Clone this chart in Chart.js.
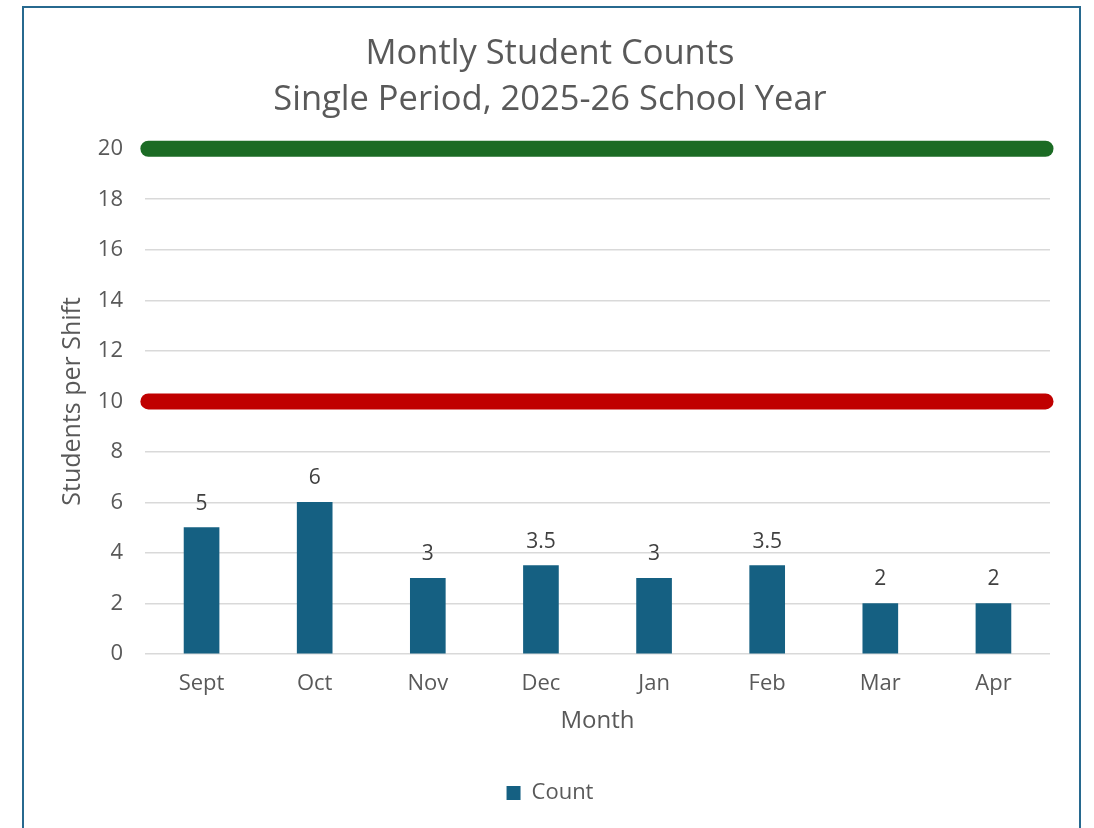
<!DOCTYPE html>
<html>
<head>
<meta charset="utf-8">
<script src="https://cdn.jsdelivr.net/npm/chart.js@4.4.1/dist/chart.umd.min.js"></script>
<style>
  body { margin: 0; background: #ffffff; }
  #frame {
    position: absolute; left: 22px; top: 6px; width: 1059px; height: 840px;
    border: 2px solid #27698f; box-sizing: border-box;
  }
  #chart0 { position: absolute; left: 0; top: 0; }
</style>
</head>
<body>
<div id="frame"></div>
<canvas id="chart0" width="1094" height="828"></canvas>
<script>
const months = ["Sept", "Oct", "Nov", "Dec", "Jan", "Feb", "Mar", "Apr"];
const counts = [5, 6, 3, 3.5, 3, 3.5, 2, 2];
const targetMax = 20;
const targetMin = 10;
const yTicks = [0, 2, 4, 6, 8, 10, 12, 14, 16, 18, 20];

const FONT = "'Open Sans', sans-serif";
const textGrey = "#595959";

// value labels above the bars
const barLabels = {
    id: "barLabels",
    afterDatasetsDraw(chart) {
        const ctx = chart.ctx;
        const meta = chart.getDatasetMeta(0);
        ctx.save();
        ctx.font = "21px " + FONT;
        ctx.fillStyle = "#404040";
        ctx.textAlign = "center";
        ctx.textBaseline = "middle";
        meta.data.forEach((bar, i) => {
            ctx.fillText(String(counts[i]), bar.x, bar.y - 24);
        });
        ctx.restore();
    }
};

const ctx = document.getElementById("chart0").getContext("2d");
window.chart = new Chart(ctx, {
    data: {
        labels: months,
        datasets: [
            {
                type: "bar",
                label: "Count",
                data: counts,
                backgroundColor: "#156082",
                barThickness: 35,
                grouped: false,
                order: 2,
            },
            {
                type: "line",
                label: "max",
                data: [{ x: 0, y: targetMax }, { x: months.length, y: targetMax }],
                xAxisID: "x2",
                borderColor: "#1b6b24",
                borderWidth: 16,
                borderCapStyle: "round",
                pointRadius: 0,
                clip: false,
                order: 1,
            },
            {
                type: "line",
                label: "min",
                data: [{ x: 0, y: targetMin }, { x: months.length, y: targetMin }],
                xAxisID: "x2",
                borderColor: "#c00000",
                borderWidth: 16,
                borderCapStyle: "round",
                pointRadius: 0,
                clip: false,
                order: 1,
            },
        ],
    },
    options: {
        responsive: false,
        animation: false,
        layout: { padding: { left: 50, right: 44, top: 0, bottom: 14 } },
        scales: {
            x: {
                grid: { display: false, drawTicks: false },
                border: { display: false },
                ticks: { color: textGrey, font: { family: FONT, size: 22 }, padding: 17 },
                title: {
                    display: true, text: "Month", color: textGrey,
                    font: { family: FONT, size: 24 }, padding: { top: 8, bottom: 36 },
                },
                afterFit(scale) { scale.height = 118; },
            },
            x2: {
                type: "linear", display: false, min: -0.03, max: months.length + 0.04,
            },
            y: {
                min: 0, max: 20,
                afterBuildTicks(scale) { scale.ticks = yTicks.map(v => ({ value: v })); },
                grid: { color: "#d9d9d9", lineWidth: 1.6, drawTicks: false },
                border: { display: false },
                ticks: { color: textGrey, font: { family: FONT, size: 22 }, padding: 22 },
                title: {
                    display: true, text: "Students per Shift", color: textGrey,
                    font: { family: FONT, size: 25 }, padding: { top: 8, bottom: 0 },
                },
                afterFit(scale) { scale.width = 95; },
            },
        },
        plugins: {
            title: {
                display: true,
                text: ["Montly Student Counts", "Single Period, 2025-26 School Year"],
                color: textGrey,
                font: { family: FONT, size: 34.5, weight: "normal", lineHeight: 1.33 },
                padding: { top: 31, bottom: 26 },
            },
            legend: {
                position: "bottom",
                labels: {
                    filter: item => item.text === "Count",
                    color: textGrey,
                    font: { family: FONT, size: 22 },
                    boxWidth: 14, boxHeight: 14, padding: 10,
                },
            },
            tooltip: { enabled: false },
        },
    },
    plugins: [barLabels],
});
</script>
</body>
</html>
